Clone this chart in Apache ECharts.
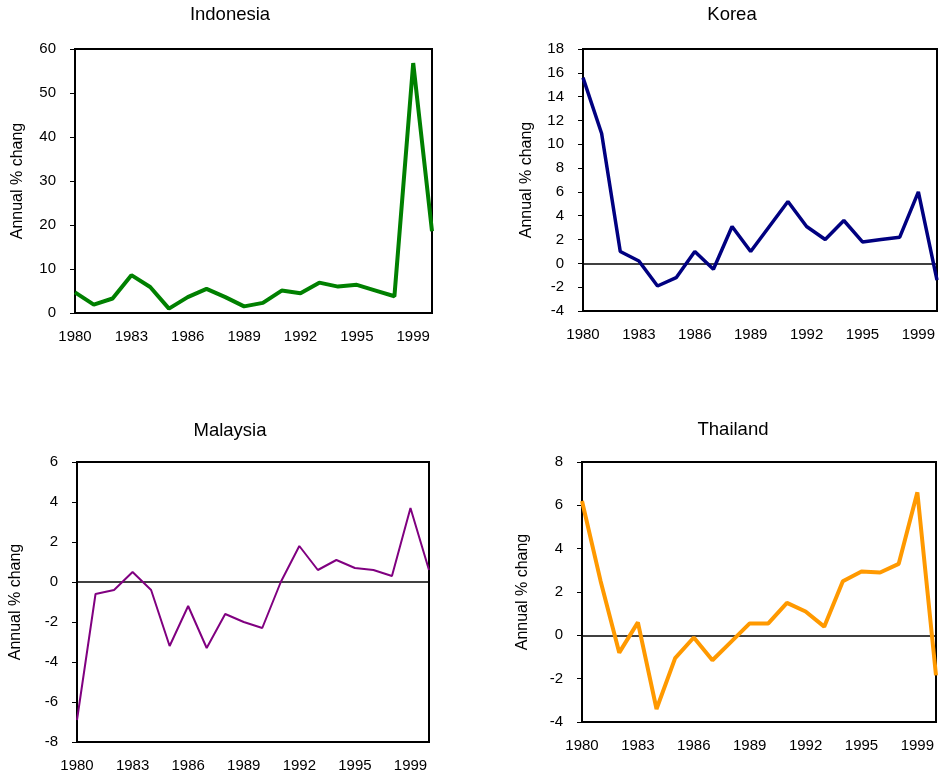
<!DOCTYPE html>
<html><head><meta charset="utf-8">
<script src="https://cdn.jsdelivr.net/npm/echarts@6/dist/echarts.min.js"></script>
<style>html,body{margin:0;padding:0;background:#fff}#c{width:940px;height:778px}</style>
</head><body><div id="c"></div>
<script>
const years = ['1980','1981','1982','1983','1984','1985','1986','1987','1988','1989','1990','1991','1992','1993','1994','1995','1996','1997','1998','1999'];
const tickLabels = ['1980','','','1983','','','1986','','','1989','','','1992','','','1995','','','1999',''];
const indonesia = [4.7,1.9,3.3,8.6,5.9,1.0,3.6,5.5,3.6,1.5,2.3,5.1,4.5,6.9,6.0,6.4,5.1,3.8,56.8,18.6];
const korea = [15.6,10.9,1.0,0.2,-1.9,-1.2,1.0,-0.5,3.1,1.0,3.1,5.2,3.1,2.0,3.6,1.8,2.0,2.2,6.0,-1.4];
const malaysia = [-6.9,-0.6,-0.4,0.5,-0.4,-3.2,-1.2,-3.3,-1.6,-2.0,-2.3,0.0,1.8,0.6,1.1,0.7,0.6,0.3,3.7,0.6];
const thailand = [6.2,2.5,-0.8,0.6,-3.4,-1.05,-0.1,-1.15,-0.3,0.55,0.55,1.5,1.1,0.4,2.5,2.95,2.9,3.3,6.6,-1.85];

const panels = [
  {name:'Indonesia', data:indonesia, color:'#008000', width:4, min:0, max:60, interval:10, zero:false,
   grid:{left:75, top:49, width:357, height:264}, titleX:230, titleY:5, gap:49},
  {name:'Korea', data:korea, color:'#000080', width:3.5, min:-4, max:18, interval:2, zero:true,
   grid:{left:583, top:49, width:355, height:262}, titleX:732, titleY:5, gap:48},
  {name:'Malaysia', data:malaysia, color:'#800080', width:2, min:-8, max:6, interval:2, zero:true,
   grid:{left:77, top:462, width:352, height:280}, titleX:230, titleY:421, gap:53},
  {name:'Thailand', data:thailand, color:'#FF9900', width:4, min:-4, max:8, interval:2, zero:true,
   grid:{left:582, top:462, width:354, height:260}, titleX:733, titleY:420, gap:51}
];

const font = 'Liberation Sans, Arial, sans-serif';
const option = {
  animation:false,
  textStyle:{fontFamily:font},
  title: panels.map(p => ({text:p.name, left:p.titleX, top:p.titleY, textAlign:'center', padding:0,
    textStyle:{fontFamily:font, fontSize:18.5, fontWeight:'normal', color:'#000'}})),
  grid: panels.map(p => Object.assign({show:true, borderColor:'#000', borderWidth:2, containLabel:false}, p.grid)),
  xAxis: panels.map((p,i) => ({type:'category', gridIndex:i, data:years, boundaryGap:false,
    axisLine:{show:true, onZero:false, lineStyle:{color:'#000', width:2}},
    axisTick:{show:false}, splitLine:{show:false},
    axisLabel:{interval:0, margin:16, color:'#000', fontSize:15, fontFamily:font,
      formatter:(v,idx)=>tickLabels[idx]}})),
  yAxis: panels.map((p,i) => ({type:'value', gridIndex:i, min:p.min, max:p.max, interval:p.interval,
    name:'Annual % change', nameLocation:'middle', nameGap:p.gap, nameRotate:90,
    nameTruncate:{maxWidth:121, ellipsis:''},
    nameTextStyle:{fontFamily:font, fontSize:16, color:'#000'},
    axisLine:{show:true, lineStyle:{color:'#000', width:2}},
    axisTick:{show:true, length:5, lineStyle:{color:'#000', width:1}},
    splitLine:{show:false},
    axisLabel:{margin:19, color:'#000', fontSize:15, fontFamily:font}})),
  series: panels.map((p,i) => {
    const s = {type:'line', xAxisIndex:i, yAxisIndex:i, data:p.data, symbol:'none', showSymbol:false,
      lineStyle:{color:p.color, width:p.width}, itemStyle:{color:p.color}, z:3};
    if (p.zero) s.markLine = {silent:true, symbol:['none','none'], label:{show:false}, animation:false,
      lineStyle:{color:'#000', width:1.5, type:'solid'}, data:[{yAxis:0}], z:2};
    return s;
  })
};
const chart = echarts.init(document.getElementById('c'), null, {renderer:'canvas'});
chart.setOption(option);
</script>
</body></html>
